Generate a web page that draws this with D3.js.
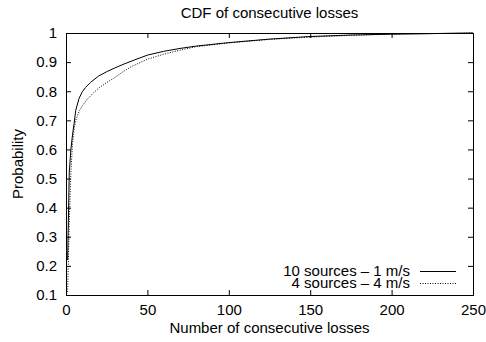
<!DOCTYPE html>
<html>
<head>
<meta charset="utf-8">
<script src="https://cdn.jsdelivr.net/npm/d3@7"></script>
<style>
    body { margin: 0; background: #fff; }
    svg text { font-family: "Liberation Sans", Arial, sans-serif; font-size: 15px; fill: #000; }
</style>
</head>
<body>
<div id="chart"></div>
<script>
// consecutive losses (x) and cumulative probability for each run
const lossesA = [1, 2, 3, 4, 5, 6, 8, 10, 12, 15, 20, 25, 30, 35, 40, 50, 60, 70, 80, 100, 125, 150, 175, 200, 225, 250];
const probA = [0.22, 0.52, 0.60, 0.65, 0.69, 0.735, 0.775, 0.798, 0.813, 0.83, 0.852, 0.867, 0.88, 0.892, 0.903, 0.924, 0.937, 0.947, 0.955, 0.967, 0.979, 0.988, 0.993, 0.996, 0.998, 1.0];

const lossesB = [1, 2, 3, 4, 5, 6, 8, 10, 13, 17, 20, 25, 30, 35, 40, 50, 60, 70, 80, 100, 125, 150, 175, 200, 225, 250];
const probB = [0.11, 0.35, 0.52, 0.62, 0.67, 0.70, 0.73, 0.75, 0.772, 0.795, 0.81, 0.83, 0.847, 0.867, 0.884, 0.91, 0.927, 0.941, 0.953, 0.966, 0.978, 0.986, 0.992, 0.996, 0.998, 1.0];

const seriesNames = ['10 sources \u2013 1 m/s', '4 sources \u2013 4 m/s'];
const xTicks = [0, 50, 100, 150, 200, 250];
const yTicks = [0.1, 0.2, 0.3, 0.4, 0.5, 0.6, 0.7, 0.8, 0.9, 1];

const width = 486, height = 342;
const margin = {top: 33, right: 13, bottom: 47, left: 66};
const w = width - margin.left - margin.right;
const h = height - margin.top - margin.bottom;

const svg = d3.select('#chart').append('svg')
    .attr('width', width)
    .attr('height', height);

const g = svg.append('g')
    .attr('transform', 'translate(' + margin.left + ',' + margin.top + ')');

const x = d3.scaleLinear().domain([0, 250]).range([0, w]);
const y = d3.scaleLinear().domain([0.1, 1]).range([h, 0]);

const tickLen = 5;

// inward ticks, gnuplot style, mirrored on top and right
const xAxis = d3.axisBottom(x).tickValues(xTicks).tickSizeInner(-tickLen).tickSizeOuter(0).tickPadding(9);
const yAxis = d3.axisLeft(y).tickValues(yTicks).tickSizeInner(-tickLen).tickSizeOuter(0).tickPadding(9)
    .tickFormat(d3.format('~g'));

g.append('g')
    .attr('transform', 'translate(0,' + h + ')')
    .call(xAxis)
    .call(a => a.select('.domain').remove())
    .call(a => a.selectAll('text').attr('font-size', null).attr('font-family', null));

g.append('g')
    .call(yAxis)
    .call(a => a.select('.domain').remove())
    .call(a => a.selectAll('text').attr('font-size', null).attr('font-family', null));

g.append('g')
    .call(d3.axisTop(x).tickValues(xTicks).tickSizeInner(-tickLen).tickSizeOuter(0).tickFormat(''))
    .call(a => a.select('.domain').remove());

g.append('g')
    .attr('transform', 'translate(' + w + ',0)')
    .call(d3.axisRight(y).tickValues(yTicks).tickSizeInner(-tickLen).tickSizeOuter(0).tickFormat(''))
    .call(a => a.select('.domain').remove());

g.append('rect')
    .attr('x', 0.5)
    .attr('y', 0.5)
    .attr('width', w)
    .attr('height', h)
    .attr('fill', 'none')
    .attr('stroke', '#000')
    .attr('stroke-width', 1);

const line = d3.line()
    .x(d => x(d[0]))
    .y(d => y(d[1]));

g.append('path')
    .datum(d3.zip(lossesA, probA))
    .attr('fill', 'none')
    .attr('stroke', '#000')
    .attr('stroke-width', 1)
    .attr('d', line);

g.append('path')
    .datum(d3.zip(lossesB, probB))
    .attr('fill', 'none')
    .attr('stroke', '#000')
    .attr('stroke-width', 1)
    .attr('stroke-dasharray', '1,1.5')
    .attr('d', line);

// legend, bottom right inside the plot
const legend = g.append('g')
    .attr('transform', 'translate(' + (w - 63) + ',' + (h - 24) + ')');

seriesNames.forEach((name, i) => {
    const row = legend.append('g').attr('transform', 'translate(0,' + (i * 12) + ')');
    row.append('text')
        .attr('x', 0)
        .attr('y', 5)
        .attr('text-anchor', 'end')
        .text(name);
    row.append('line')
        .attr('x1', 10)
        .attr('x2', 46)
        .attr('y1', 0.5)
        .attr('y2', 0.5)
        .attr('stroke', '#000')
        .attr('stroke-dasharray', i === 1 ? '1,1.5' : null);
});

svg.append('text')
    .attr('x', margin.left + w / 2)
    .attr('y', 18)
    .attr('text-anchor', 'middle')
    .text('CDF of consecutive losses');

svg.append('text')
    .attr('x', margin.left + w / 2)
    .attr('y', 333)
    .attr('text-anchor', 'middle')
    .text('Number of consecutive losses');

svg.append('text')
    .attr('transform', 'translate(23,' + (margin.top + h / 2) + ') rotate(-90)')
    .attr('text-anchor', 'middle')
    .text('Probability');
</script>
</body>
</html>
